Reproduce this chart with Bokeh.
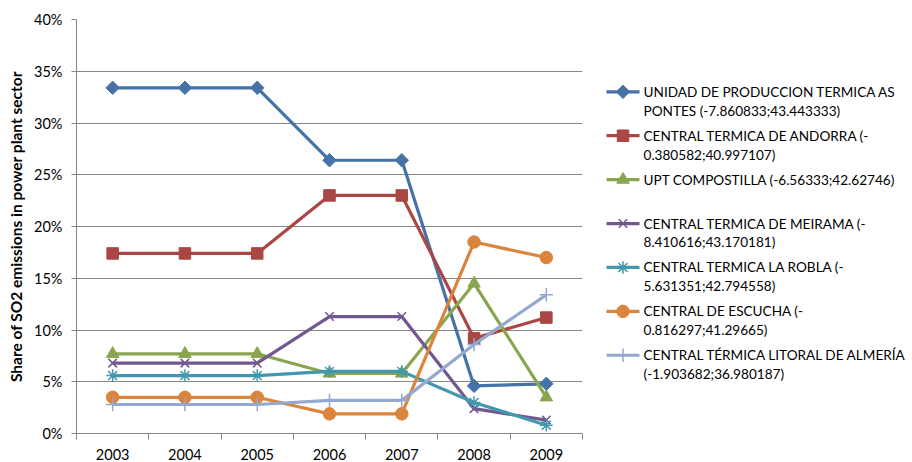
import numpy as np
from bokeh.plotting import figure
from bokeh.layouts import row
from bokeh.models import Range1d, FixedTicker, PrintfTickFormatter
from bokeh.embed import file_html
from bokeh.resources import INLINE
from bokeh.core.properties import value

# ---------------- data ----------------
years = [2003, 2004, 2005, 2006, 2007, 2008, 2009]
year_labels = ["2003", "2004", "2005", "2006", "2007", "2008", "2009"]
y_ticks = [0, 5, 10, 15, 20, 25, 30, 35, 40]

as_pontes   = [33.4, 33.4, 33.4, 26.4, 26.4, 4.6, 4.8]
andorra     = [17.4, 17.4, 17.4, 23.0, 23.0, 9.2, 11.2]
compostilla = [7.7, 7.7, 7.7, 5.8, 5.8, 14.5, 3.5]
meirama     = [6.8, 6.8, 6.8, 11.3, 11.3, 2.4, 1.3]
la_robla    = [5.6, 5.6, 5.6, 6.0, 6.0, 3.0, 0.8]
escucha     = [3.5, 3.5, 3.5, 1.9, 1.9, 18.5, 17.0]
almeria     = [2.8, 2.8, 2.8, 3.2, 3.2, 8.6, 13.4]

series_values = [as_pontes, andorra, compostilla, meirama, la_robla, escucha, almeria]
legend_lines = [
    ["UNIDAD DE PRODUCCION TERMICA  AS", "PONTES (-7.860833;43.443333)"],
    ["CENTRAL TERMICA DE ANDORRA (-", "0.380582;40.997107)"],
    ["UPT COMPOSTILLA (-6.56333;42.62746)"],
    ["CENTRAL TERMICA DE MEIRAMA (-", "8.410616;43.170181)"],
    ["CENTRAL TERMICA LA ROBLA (-", "5.631351;42.794558)"],
    ["CENTRAL DE ESCUCHA (-", "0.816297;41.29665)"],
    ["CENTRAL TÉRMICA LITORAL DE ALMERÍA", "(-1.903682;36.980187)"],
]
y_title = "Share of SO2 emissions in power plant sector"

# ---------------- style ----------------
colors = ["#4572A7", "#AA4643", "#89A54E", "#71588F", "#4198AF", "#DB843D", "#93A9CF"]
markers = ["square", "square", "triangle", "x", "asterisk", "circle", "cross"]
angles = [np.pi / 4, 0, 0, 0, 0, 0, 0]
sizes = [9.5, 11.5, 12.5, 12, 12.5, 12.5, 13.5]
mlw = [1, 1, 1, 1.5, 1.5, 1, 1.5]
FONT = "Lato"
GRID = "#868686"

p = figure(width=598, height=462, output_backend="svg", toolbar_location=None,
           x_range=Range1d(2002.5, 2009.5), y_range=Range1d(0, 40),
           min_border_left=76, min_border_right=16, min_border_top=19,
           min_border_bottom=5)
p.outline_line_color = None
p.xgrid.grid_line_color = None
p.ygrid.grid_line_color = GRID
p.ygrid.ticker = FixedTicker(ticks=y_ticks)

p.yaxis.ticker = FixedTicker(ticks=y_ticks)
p.yaxis.formatter = PrintfTickFormatter(format="%d%%")
p.yaxis.axis_line_color = GRID
p.yaxis.major_tick_line_color = GRID
p.yaxis.major_tick_out = 5
p.yaxis.major_tick_in = 0
p.yaxis.minor_tick_line_color = None
p.yaxis.major_label_standoff = 9
p.yaxis.major_label_text_font = FONT
p.yaxis.major_label_text_font_size = "14.5px"
p.yaxis.major_label_text_color = "#000000"
p.yaxis.axis_label = y_title
p.yaxis.axis_label_text_font = FONT
p.yaxis.axis_label_text_font_size = "15.5px"
p.yaxis.axis_label_text_font_style = "bold"
p.yaxis.axis_label_text_color = "#000000"
p.yaxis.axis_label_standoff = 6

minor = [2002.5 + i for i in range(len(years) + 1)]
p.xaxis.ticker = FixedTicker(ticks=years, minor_ticks=minor)
p.xaxis.major_label_overrides = {y: l for y, l in zip(years, year_labels)}
p.xaxis.axis_line_color = GRID
p.xaxis.major_tick_line_color = None
p.xaxis.minor_tick_line_color = GRID
p.xaxis.minor_tick_out = 6
p.xaxis.minor_tick_in = 0
p.xaxis.major_label_standoff = 9
p.xaxis.major_label_text_font = FONT
p.xaxis.major_label_text_font_size = "14.5px"
p.xaxis.major_label_text_color = "#000000"

for vals, c, m, a, s, lw in zip(series_values, colors, markers, angles, sizes, mlw):
    p.line(years, vals, line_color=c, line_width=3.2)
    p.scatter(years, vals, marker=m, angle=a, size=s, fill_color=c,
              line_color=c, line_width=lw)

# ---------------- legend panel ----------------
L = figure(width=314, height=462, output_backend="svg", toolbar_location=None,
           x_range=Range1d(0, 314), y_range=Range1d(462, 0),
           x_axis_type=None, y_axis_type=None, min_border=0)
L.outline_line_color = None

ys = [80.7 + 49 * i for i in range(len(legend_lines))]
L.segment(x0=[8] * 7, x1=[41] * 7, y0=ys, y1=ys, line_color=colors, line_width=3.2)
L.scatter(x=[24.5] * 7, y=ys, marker=markers, angle=angles, size=sizes,
          fill_color=colors, line_color=colors, line_width=mlw)
tx, ty, tt = [], [], []
for yy, lines in zip(ys, legend_lines):
    for j, t in enumerate(lines):
        tx.append(45)
        ty.append(yy + 21 * j)
        tt.append(t)
L.text(x=tx, y=ty, text=tt, text_font=value(FONT), text_font_size=value("13.6px"),
       text_baseline="middle", text_align="left", text_color="#000000")

layout = row(p, L)
open("out.html", "w").write(file_html(layout, INLINE))
